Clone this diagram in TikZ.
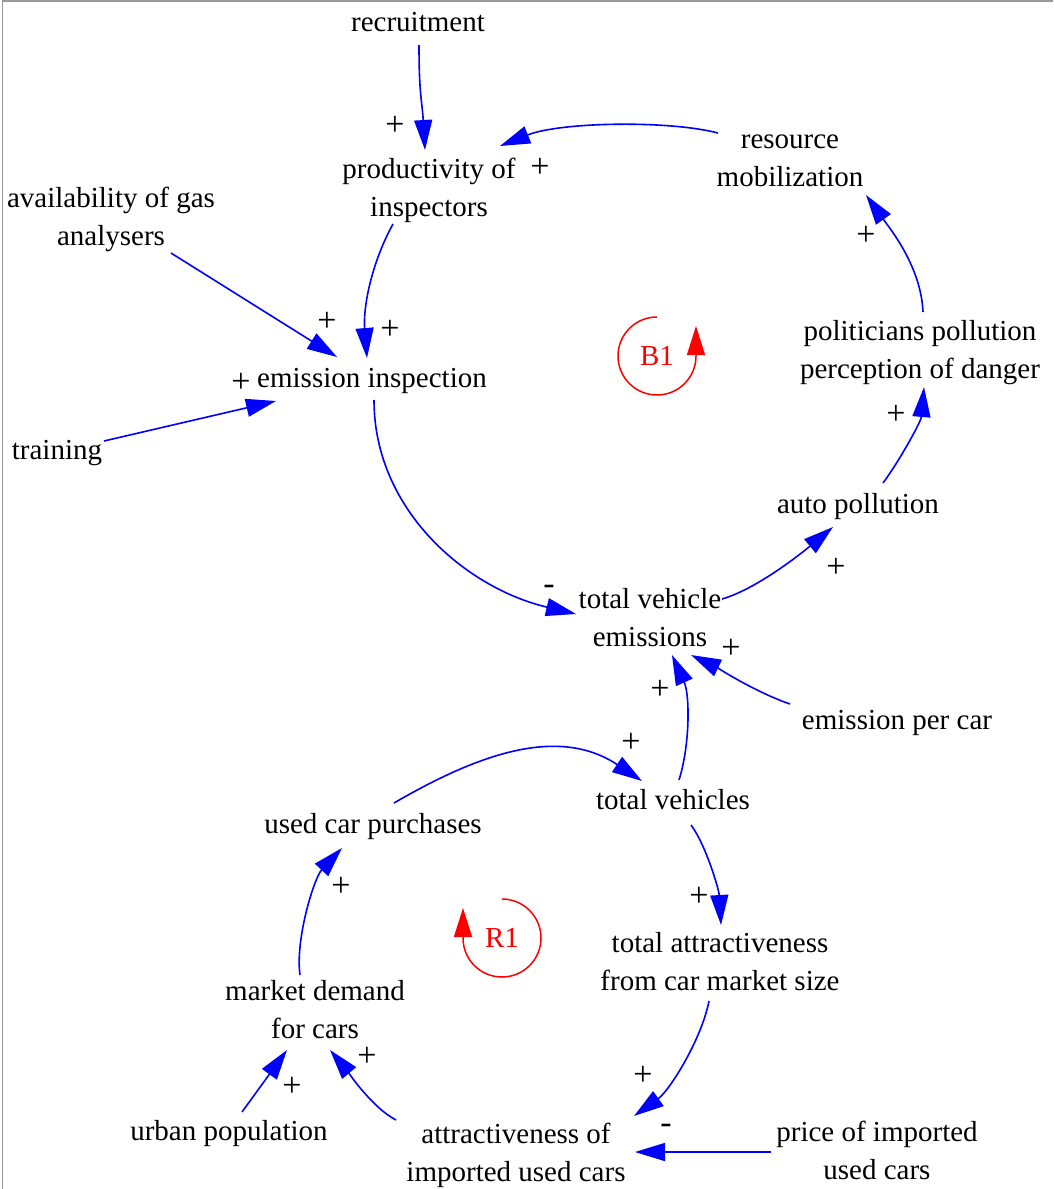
\documentclass[tikz,border=0pt]{standalone}
\usepackage{fontspec}
\setmainfont{Liberation Serif}
\usetikzlibrary{arrows.meta}
\definecolor{framegray}{gray}{0.6}
% invisible rules that fix the height above the first baseline and the depth below the last
\newcommand\tophold[1]{\rule{0pt}{#1}}
\newcommand\bothold[1]{\rule[-#1]{0pt}{#1}}
\begin{document}
\begin{tikzpicture}[x=1pt,y=1pt,
  var/.style={font=\fontsize{29}{38}\selectfont, align=center, inner sep=0pt, outer sep=0pt,
              execute at begin node=\tophold{28pt}, execute at end node=\bothold{8.8pt}},
  var2/.style={font=\fontsize{29}{38}\selectfont, align=center, inner sep=0pt, outer sep=0pt,
              execute at begin node=\tophold{31pt}, execute at end node=\bothold{5.8pt}},
  sign/.style={font=\fontsize{34}{38}\selectfont, inner sep=0pt},
  link/.style={draw=blue, line width=1.6pt, -{Triangle[length=30pt,width=18pt]}},
  loopmark/.style={draw=red, line width=1.5pt, -{Triangle[length=29pt,width=18pt]}},
  looplabel/.style={font=\fontsize{29}{38}\selectfont, text=red, inner sep=0pt}
]
\useasboundingbox (0,0) rectangle (1053,-1189);
% frame on the left and top edges
\draw[framegray, line width=1.5pt] (2.5,-1189) -- (2.5,-1.2) -- (1053,-1.2);

% variables
\node[var]  (rec)   at (418,-22)   {recruitment};
\node[var2] (prod)  at (429,-190)  {productivity of\\inspectors};
\node[var2] (res)   at (790,-164)  {resource\\mobilization};
\node[var2] (avail) at (111,-219)  {availability of gas\\analysers};
\node[var]  (emi)   at (372,-378)  {emission inspection};
\node[var]  (train) at (57,-450)   {training};
\node[var2] (polit) at (920,-353)  {politicians pollution\\perception of danger};
\node[var]  (auto)  at (858,-504)  {auto pollution};
\node[var2] (tve)   at (650,-620)  {total vehicle\\emissions};
\node[var]  (epc)   at (897,-720)  {emission per car};
\node[var]  (ucp)   at (373,-824)  {used car purchases};
\node[var]  (tv)    at (673,-800)  {total vehicles};
\node[var2] (tam)   at (720,-964)  {total attractiveness\\from car market size};
\node[var2] (mdc)   at (315,-1012) {market demand\\for cars};
\node[var]  (urb)   at (229,-1131) {urban population};
\node[var2] (aiu)   at (516,-1155) {attractiveness of\\imported used cars};
\node[var2] (pri)   at (877,-1153) {price of imported\\used cars};

% loop markers
\node[looplabel] (b1) at (657,-356) {B1};
\node[looplabel] (r1) at (502,-938) {R1};
\draw[loopmark] ([shift={(0,39)}]b1.center) arc[start angle=90, end angle=360, radius=39] -- ++(0,30);
\draw[loopmark] ([shift={(0,39)}]r1.center) arc[start angle=90, end angle=-180, radius=39] -- ++(0,30);

% causal links
\draw[link] ([shift={(1,-23)}]rec.center) .. controls +(0,-50) and +(-3,50) .. ([shift={(-4,40)}]prod.center);
\draw[link] ([shift={(-72,31)}]res.center) .. controls +(-50,13) and +(60,24) .. ([shift={(71,44)}]prod.center);
\draw[link] ([shift={(-36,-34)}]prod.center) .. controls +(-22,-40) and +(-4,50) .. ([shift={(-5,20)}]emi.center);
\draw[link] ([shift={(60,-34)}]avail.center) -- ([shift={(-35,21)}]emi.center);
\draw[link] ([shift={(47,9)}]train.center) -- ([shift={(-96,-23)}]emi.center);
\draw[link] ([shift={(2,-22)}]emi.center) .. controls +(0,-110) and +(-110,26) .. ([shift={(-74,6)}]tve.center);
\draw[link] ([shift={(72,21)}]tve.center) .. controls +(35,10) and +(-30,-25) .. ([shift={(-25,-23)}]auto.center);
\draw[link] ([shift={(25,21)}]auto.center) .. controls +(15,20) and +(-3,-35) .. ([shift={(4,-34)}]polit.center);
\draw[link] ([shift={(3,41)}]polit.center) .. controls +(-2,45) and +(25,-35) .. ([shift={(76,-31)}]res.center);
\draw[link] ([shift={(-107,16)}]epc.center) .. controls +(-35,12) and +(25,-12) .. ([shift={(41,-35)}]tve.center);
\draw[link] ([shift={(6,20)}]tv.center) .. controls +(11,35) and +(18,-40) .. ([shift={(22,-35)}]tve.center);
\draw[link] ([shift={(21,21)}]ucp.center) .. controls +(86,50) and +(-83,55) .. ([shift={(-31,19)}]tv.center);
\draw[link] ([shift={(18,-25)}]tv.center) .. controls +(15,-20) and +(-2,35) .. ([shift={(1,39)}]tam.center);
\draw[link] ([shift={(-11,-37)}]tam.center) .. controls +(-8,-40) and +(35,25) .. ([shift={(118,39)}]aiu.center);
\draw[link] ([shift={(-106,1)}]pri.center) -- ([shift={(119,3)}]aiu.center);
\draw[link] ([shift={(-15,37)}]mdc.center) .. controls +(-5,35) and +(-28,-30) .. ([shift={(-31,-24)}]ucp.center);
\draw[link] ([shift={(13,19)}]urb.center) -- ([shift={(-28,-38)}]mdc.center);
\draw[link] ([shift={(-120,35)}]aiu.center) .. controls +(-25,13) and +(15,-18) .. ([shift={(15,-38)}]mdc.center);

% polarity signs
\node[sign] (s1)  at (395,-126)  {+};
\node[sign] (s2)  at (540,-168)  {+};
\node[sign] (s3)  at (390,-330)  {+};
\node[sign] (s4)  at (327,-322)  {+};
\node[sign] (s5)  at (241,-383)  {+};
\node[sign] (s6)  at (549,-590)  {-};
\node[sign] (s7)  at (836,-568)  {+};
\node[sign] (s8)  at (896,-415)  {+};
\node[sign] (s9)  at (866,-236)  {+};
\node[sign] (s10) at (731,-649)  {+};
\node[sign] (s11) at (660,-690)  {+};
\node[sign] (s12) at (631,-743)  {+};
\node[sign] (s13) at (699,-897)  {+};
\node[sign] (s14) at (643,-1076) {+};
\node[sign] (s15) at (666,-1129) {-};
\node[sign] (s16) at (341,-887)  {+};
\node[sign] (s17) at (292,-1087) {+};
\node[sign] (s18) at (367,-1057) {+};
\end{tikzpicture}
\end{document}
